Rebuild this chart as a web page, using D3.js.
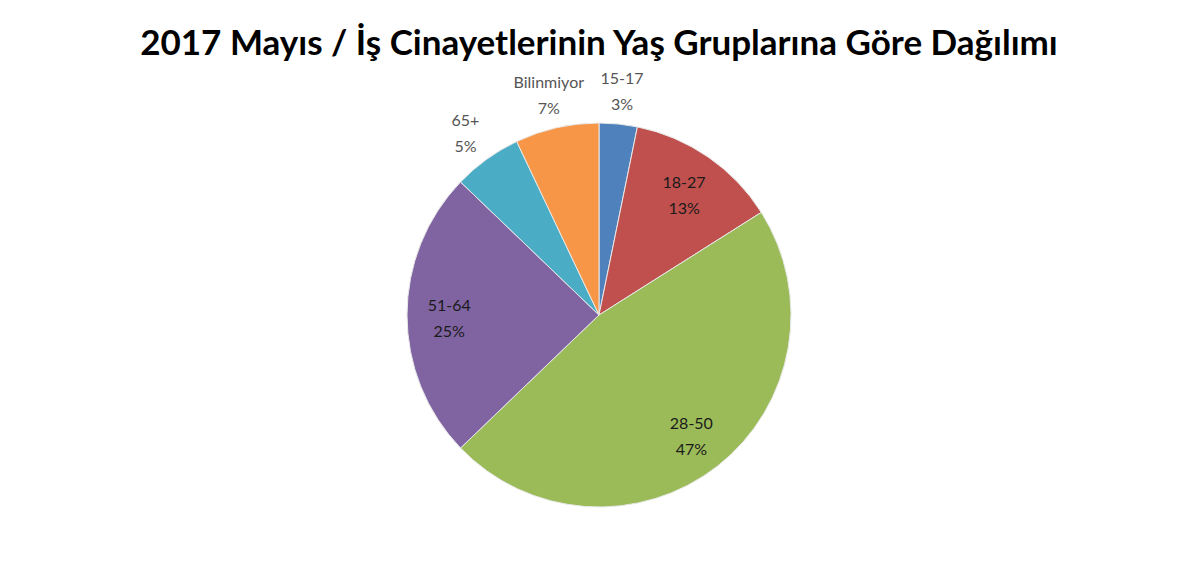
<!DOCTYPE html>
<html>
<head>
<meta charset="utf-8">
<script src="https://cdn.jsdelivr.net/npm/d3@7"></script>
<style>
    body {
        padding: 0;
        margin: 0;
        background: #fff;
    }
</style>
</head>
<body>
<script>
// age groups, in drawing order (clockwise from 12 o'clock)
const groups = ['15-17', '18-27', '28-50', '51-64', '65+', 'Bilinmiyor'];
// estimated counts
const counts = [5, 20, 73, 38, 9, 11];
// percent labels as printed on the chart
const percents = ['3%', '13%', '47%', '25%', '5%', '7%'];
const colors = ['#4f81bd', '#c0504d', '#9bbb59', '#8064a2', '#4bacc6', '#f79646'];

const width = 1200;
const height = 566;
const cx = 599, cy = 315, r = 192;

const svg = d3.create('svg')
    .attr('viewBox', [0, 0, width, height])
    .attr('width', width)
    .attr('height', height);

document.body.appendChild(svg.node());

svg.append('text')
    .attr('x', 599)
    .attr('y', 55)
    .attr('text-anchor', 'middle')
    .attr('font-family', 'Lato, sans-serif')
    .attr('font-weight', 'bold')
    .attr('font-size', 35)
    .attr('fill', '#000')
    .text('2017 Mayıs / İş Cinayetlerinin Yaş Gruplarına Göre Dağılımı');

const data = groups.map((g, i) => ({ name: g, value: counts[i], pct: percents[i], color: colors[i] }));

const pie = d3.pie().value(d => d.value).sort(null);
const arc = d3.arc().innerRadius(0).outerRadius(r);
const inArc = d3.arc().innerRadius(r * 0.78).outerRadius(r * 0.78);
const outArc = d3.arc().innerRadius(r * 1.19).outerRadius(r * 1.19);

const g = svg.append('g').attr('transform', `translate(${cx}, ${cy})`);

const arcs = pie(data);

g.selectAll('path')
    .data(arcs)
    .join('path')
        .attr('d', arc)
        .attr('fill', d => d.data.color)
        .attr('stroke', '#e8e8e8')
        .attr('stroke-width', 1);

// small slices get their label outside the pie
const isOutside = d => d.data.value / d3.sum(counts) < 0.08;

const labels = g.selectAll('text.label')
    .data(arcs)
    .join('text')
        .classed('label', true)
        .attr('transform', d => `translate(${(isOutside(d) ? outArc : inArc).centroid(d)})`)
        .attr('text-anchor', 'middle')
        .attr('font-family', 'Lato, sans-serif')
        .attr('font-size', 16)
        .attr('fill', d => isOutside(d) ? '#555' : '#1a1a1a');

labels.append('tspan')
    .attr('x', 0)
    .attr('y', -4)
    .text(d => d.data.name);

labels.append('tspan')
    .attr('x', 0)
    .attr('y', 22)
    .text(d => d.data.pct);
</script>
</body>
</html>
